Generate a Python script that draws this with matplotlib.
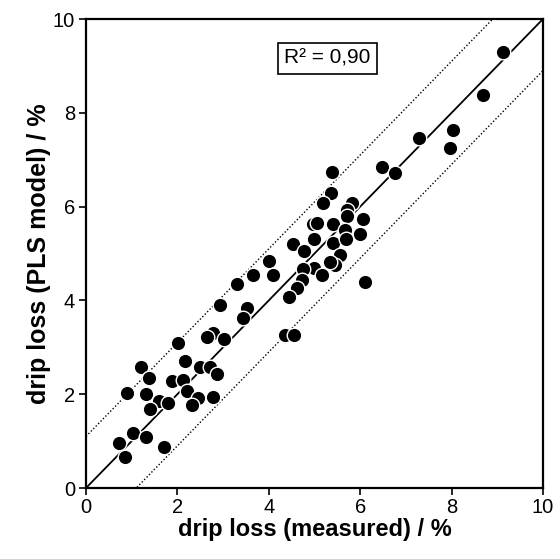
import matplotlib
matplotlib.use("Agg")
import matplotlib.pyplot as plt
import numpy as np

plt.rcParams['font.family'] = ['Liberation Sans', 'DejaVu Sans']

measured = [9.12, 8.69, 8.03, 7.97, 7.29, 6.48, 6.76,
            5.38, 5.36, 5.19, 5.82, 5.71, 5.71, 6.06, 4.97, 5.05, 5.40, 5.67, 6.00,
            4.99, 5.40, 5.69, 4.53, 4.77, 5.56, 5.45, 5.34, 4.99, 5.16, 4.75, 4.73,
            4.62, 4.44, 6.10, 4.00, 4.09, 3.65, 3.30, 2.93, 3.52, 3.44, 4.35, 4.55,
            2.78, 2.65, 3.02, 2.01, 2.17, 2.49, 2.71, 2.87, 1.20, 1.38, 1.88, 2.12,
            0.90, 1.31, 2.21, 1.60, 1.79, 1.40, 2.45, 2.32, 2.78, 1.03, 0.72, 1.31,
            0.85, 1.71]
predicted = [9.30, 8.38, 7.63, 7.24, 7.46, 6.84, 6.71,
             6.73, 6.30, 6.07, 6.07, 5.92, 5.79, 5.73, 5.62, 5.64, 5.62, 5.51, 5.41,
             5.30, 5.23, 5.30, 5.21, 5.06, 4.96, 4.76, 4.81, 4.70, 4.55, 4.68, 4.44,
             4.27, 4.08, 4.40, 4.85, 4.55, 4.55, 4.34, 3.91, 3.84, 3.63, 3.27, 3.27,
             3.31, 3.23, 3.18, 3.10, 2.71, 2.57, 2.57, 2.44, 2.59, 2.35, 2.29, 2.31,
             2.03, 2.01, 2.07, 1.86, 1.82, 1.69, 1.92, 1.77, 1.94, 1.18, 0.96, 1.09,
             0.66, 0.88]
ticks = [0, 2, 4, 6, 8, 10]
r2_text = "R² = 0,90"
band = 1.1

fig = plt.figure(figsize=(5.6, 5.59), dpi=100)
ax = fig.add_axes([0.1536, 0.127, 0.8160, 0.839])

line = np.array([0, 10])
ax.plot(line, line, color='black', lw=1.3, zorder=1)
ax.plot(line, line + band, color='black', lw=1.0, ls=(0, (1, 1.5)), zorder=1)
ax.plot(line, line - band, color='black', lw=1.0, ls=(0, (1, 1.5)), zorder=1)

ax.scatter(measured, predicted, s=110, c='black', edgecolors='white', linewidths=1.0, zorder=3)

ax.set_xlim(0, 10)
ax.set_ylim(0, 10)
ax.set_xticks(ticks)
ax.set_yticks(ticks)
ax.tick_params(direction='out', length=5, width=1.2, labelsize=14.5, pad=3, top=False, right=False)
ax.tick_params(axis='x', pad=2)
for s in ax.spines.values():
    s.set_linewidth(1.6)

ax.set_xlabel('drip loss (measured) / %', fontsize=17, fontweight='bold', labelpad=1)
ax.set_ylabel('drip loss (PLS model) / %', fontsize=18, fontweight='bold', labelpad=1)

ax.text(5.28, 9.16, r2_text, fontsize=15, ha='center', va='center',
        bbox=dict(boxstyle='square,pad=0.3', fc='white', ec='black', lw=1.2), zorder=5)

fig.savefig('out.png', dpi=100)
